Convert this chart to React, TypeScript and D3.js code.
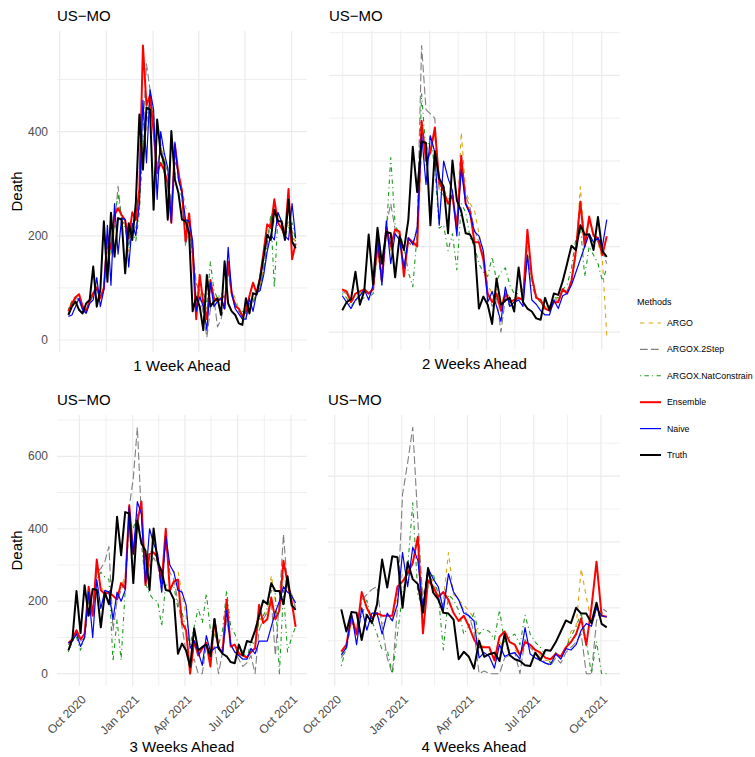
import React from "react";
import * as d3 from "d3";

// weekly reported deaths, week ending 2020-07-18 .. 2021-10-09
const weekStart = new Date(2020, 6, 18);
const weekDates = d3.range(65).map((i) => d3.timeDay.offset(weekStart, 7 * i));

const truthDeaths = [
  48, 64, 74, 58, 51, 70, 77, 141, 64, 96, 228, 112, 244, 160, 234, 231, 128, 224, 192, 263,
  433, 327, 446, 442, 250, 423, 359, 340, 231, 401, 308, 282, 231, 228, 205, 55, 83, 64, 19, 125,
  64, 74, 80, 48, 151, 70, 55, 48, 32, 29, 80, 51, 90, 87, 119, 160, 202, 192, 250, 228,
  228, 192, 269, 189, 176,
];

// 1 week ahead (65 weeks, from week 0)
const argoW1 = [55, 68, 80, 78, 60, 58, 72, 90, 110, 80, 95, 185, 160, 215, 225, 235, 220, 170, 215, 210, 260, 380, 400, 450, 420, 330, 380, 350, 325, 260, 340, 330, 290, 255, 240, 180, 110, 90, 80, 60, 100, 80, 80, 85, 80, 140, 95, 80, 60, 50, 45, 70, 75, 90, 105, 140, 175, 200, 230, 240, 230, 215, 220, 210, 185];
const stepW1 = [50, 65, 80, 75, 58, 55, 72, 85, 105, 80, 100, 190, 170, 220, 295, 230, 220, 180, 220, 215, 260, 400, 530, 480, 410, 330, 370, 345, 320, 250, 345, 320, 280, 180, 220, 165, 110, 90, 50, 5, 60, 80, 25, 40, 70, 130, 85, 70, 55, 45, 40, 70, 70, 90, 100, 140, 180, 235, 250, 230, 225, 210, 230, 200, 180];
const natW1 = [60, 75, 85, 75, 60, 60, 75, 90, 100, 85, 95, 180, 165, 230, 280, 230, 215, 175, 210, 190, 245, 380, 420, 460, 430, 320, 370, 320, 310, 250, 320, 310, 270, 190, 210, 160, 80, 100, 90, 70, 150, 95, 80, 90, 80, 140, 90, 70, 60, 55, 50, 75, 70, 95, 100, 130, 185, 240, 100, 235, 220, 200, 215, 225, 190];
const ensW1 = [55, 70, 82, 88, 65, 55, 75, 90, 100, 80, 100, 200, 175, 240, 253, 240, 230, 195, 245, 230, 290, 565, 450, 470, 400, 320, 340, 325, 300, 225, 375, 320, 285, 190, 243, 170, 40, 125, 70, 40, 115, 80, 75, 80, 60, 150, 90, 65, 60, 45, 55, 85, 110, 90, 120, 170, 222, 215, 270, 225, 215, 200, 290, 155, 185];
const naiveW1 = [45, 48, 64, 80, 58, 51, 70, 77, 120, 64, 96, 220, 105, 262, 165, 234, 231, 140, 224, 200, 263, 460, 340, 480, 442, 270, 400, 359, 330, 225, 380, 308, 282, 231, 228, 190, 55, 83, 64, 19, 110, 64, 74, 80, 60, 178, 90, 60, 50, 40, 40, 80, 55, 90, 95, 125, 170, 202, 192, 245, 228, 200, 192, 262, 195];

// 2 weeks ahead (61 weeks, from week 4)
const argoW2 = [100, 90, 70, 85, 90, 100, 90, 100, 200, 120, 230, 190, 235, 230, 140, 210, 205, 210, 420, 390, 430, 460, 330, 340, 310, 320, 250, 467, 330, 300, 285, 230, 190, 110, 90, 100, 60, 100, 80, 80, 85, 80, 200, 120, 85, 70, 60, 55, 75, 75, 100, 95, 120, 180, 340, 210, 260, 225, 210, 170, -8];
const stepW2 = [95, 90, 70, 80, 85, 95, 90, 100, 200, 120, 250, 300, 240, 225, 150, 210, 200, 250, 670, 520, 510, 500, 330, 320, 300, 310, 260, 380, 320, 290, 240, 210, 180, 90, 60, 80, 0, 80, 60, 70, 75, 80, 180, 130, 85, 70, 55, 50, 75, 75, 100, 95, 120, 180, 300, 220, 260, 230, 210, 190, 160];
const natW2 = [90, 80, 60, 75, 75, 80, 80, 90, 190, 110, 230, 408, 250, 230, 200, 140, 106, 230, 557, 420, 460, 380, 243, 250, 190, 230, 145, 300, 280, 220, 200, 160, 140, 130, 176, 120, 140, 150, 110, 90, 90, 100, 180, 110, 80, 70, 60, 60, 80, 80, 100, 110, 150, 220, 250, 130, 200, 180, 160, 120, 149];
const ensW2 = [100, 95, 70, 90, 95, 100, 90, 100, 210, 120, 245, 200, 240, 235, 130, 220, 210, 200, 494, 400, 420, 478, 350, 330, 300, 320, 240, 412, 300, 280, 210, 210, 170, 90, 70, 90, 50, 90, 70, 75, 80, 75, 239, 130, 80, 75, 55, 50, 70, 70, 100, 90, 120, 190, 305, 200, 270, 225, 220, 180, 224];
const naiveW2 = [85, 70, 55, 75, 85, 100, 75, 110, 225, 110, 260, 160, 230, 215, 150, 220, 205, 240, 463, 345, 459, 420, 250, 400, 360, 330, 225, 380, 300, 275, 235, 225, 190, 70, 95, 60, 25, 105, 60, 70, 75, 60, 180, 75, 65, 50, 40, 40, 75, 55, 85, 90, 110, 140, 170, 200, 230, 210, 220, 200, 263];

// 3 weeks ahead (57 weeks, from week 8)
const argoW3 = [80, 90, 110, 95, 105, 220, 170, 290, 240, 225, 220, 210, 210, 240, 270, 420, 340, 440, 450, 290, 340, 330, 310, 270, 360, 300, 280, 285, 220, 160, 80, 90, 70, 60, 90, 60, 110, 80, 70, 180, 90, 80, 60, 50, 45, 65, 70, 150, 150, 170, 271, 200, 190, 270, 240, 220, 180];
const stepW3 = [80, 90, 110, 90, 100, 220, 170, 280, 290, 310, 351, 120, 200, 230, 260, 460, 540, 680, 430, 250, 300, 320, 300, 230, 360, 280, 260, 200, 130, 60, 30, 40, 0, 0, 80, 50, 80, 0, 60, 150, 80, 60, 40, 20, 30, 50, 0, 120, 150, 170, 200, 50, 200, 385, 240, 220, 180];
const natW3 = [60, 90, 100, 65, 100, 200, 160, 260, 280, 267, 260, 34, 150, 37, 230, 420, 400, 440, 360, 250, 220, 204, 200, 131, 250, 230, 240, 180, 170, 120, 80, 130, 180, 140, 221, 120, 110, 80, 120, 230, 130, 110, 80, 60, 40, 90, 80, 150, 160, 180, 230, 220, 0, 230, 60, 100, 130];
const ensW3 = [85, 95, 120, 95, 110, 240, 160, 315, 230, 220, 225, 215, 205, 250, 235, 465, 331, 420, 475, 245, 330, 335, 320, 250, 400, 230, 255, 260, 140, 120, 0, 90, 50, 70, 85, 20, 150, 70, 60, 204, 75, 80, 55, 50, 45, 60, 70, 190, 140, 150, 210, 150, 175, 312, 250, 200, 129];
const naiveW3 = [85, 90, 110, 75, 100, 225, 100, 260, 180, 230, 225, 150, 225, 200, 230, 460, 330, 475, 440, 250, 400, 360, 330, 225, 380, 300, 280, 230, 225, 190, 70, 90, 60, 23, 105, 60, 70, 75, 55, 175, 80, 60, 50, 40, 40, 70, 55, 90, 90, 90, 130, 170, 200, 240, 225, 215, 195];

// 4 weeks ahead (53 weeks, from week 12)
const argoW4 = [75, 100, 200, 140, 250, 220, 200, 220, 190, 200, 210, 300, 380, 340, 420, 450, 300, 380, 350, 300, 280, 460, 300, 280, 260, 240, 210, 120, 100, 90, 60, 120, 100, 90, 90, 70, 130, 100, 90, 70, 50, 50, 70, 65, 90, 160, 180, 398, 290, 200, 230, 230, 230];
const stepW4 = [60, 90, 200, 150, 280, 300, 320, 330, 180, 60, 0, 250, 680, 800, 935, 580, 270, 380, 320, 290, 260, 380, 310, 280, 240, 220, 160, 0, 10, 0, 0, 0, 60, 70, 80, 0, 130, 100, 80, 60, 40, 30, 60, 40, 80, 100, 120, 150, 0, 0, 200, 250, 235];
const natW4 = [30, 100, 200, 160, 220, 279, 200, 150, 90, 90, 0, 150, 300, 400, 649, 300, 250, 330, 380, 300, 90, 300, 280, 240, 150, 180, 230, 150, 170, 160, 130, 241, 120, 140, 150, 110, 222, 150, 120, 100, 70, 40, 80, 60, 100, 140, 180, 230, 120, 0, 122, 0, 0];
const ensW4 = [84, 110, 220, 150, 310, 250, 210, 230, 220, 220, 220, 330, 350, 380, 420, 520, 153, 354, 330, 290, 310, 280, 230, 200, 220, 180, 130, 100, 100, 100, 50, 140, 160, 120, 110, 70, 120, 110, 90, 80, 60, 55, 75, 65, 100, 120, 150, 210, 109, 250, 425, 220, 216];
const naiveW4 = [70, 100, 230, 110, 250, 165, 230, 230, 150, 230, 200, 263, 460, 330, 480, 430, 250, 400, 360, 330, 240, 379, 310, 280, 230, 220, 200, 60, 80, 65, 21, 110, 65, 75, 80, 55, 175, 75, 60, 50, 40, 35, 75, 55, 95, 90, 110, 165, 190, 180, 250, 220, 215];

const methods = ["ARGO", "ARGOX.2Step", "ARGOX.NatConstrain", "Ensemble", "Naive", "Truth"];
const methodColor: Record<string, string> = {
  ARGO: "#D9A514",
  "ARGOX.2Step": "#7F7F7F",
  "ARGOX.NatConstrain": "#1E9A1E",
  Ensemble: "#FF0000",
  Naive: "#0000FF",
  Truth: "#000000",
};
const methodWidth: Record<string, number> = {
  ARGO: 1.1,
  "ARGOX.2Step": 1.1,
  "ARGOX.NatConstrain": 1.1,
  Ensemble: 2,
  Naive: 1.2,
  Truth: 2,
};
const methodDash: Record<string, string | undefined> = {
  ARGO: "4.4 4.4",
  "ARGOX.2Step": "7.7 3.3",
  "ARGOX.NatConstrain": "1.1 3.3 4.4 3.3",
};

const quarterStarts = ["2020-07-01", "2020-10-01", "2021-01-01", "2021-04-01", "2021-07-01", "2021-10-01"];
const quarterMids = ["2020-08-16", "2020-11-16", "2021-02-15", "2021-05-16", "2021-08-16"];
const labelQuarters = ["2020-10-01", "2021-01-01", "2021-04-01", "2021-07-01", "2021-10-01"];

const parse = (s: string) => {
  const [y, m, d] = s.split("-").map(Number);
  return new Date(y, m - 1, d);
};

const panels = [
  {
    title: "1 Week Ahead", start: 0, x0: 57, x1: 307, y0: 31, y1: 352,
    series: [argoW1, stepW1, natW1, ensW1, naiveW1, truthDeaths.slice(0)],
    yMajor: [0, 200, 400], yMinor: [100, 300, 500],
    xMajor: quarterStarts, xMinor: [] as string[], yLabels: true, xLabels: false,
  },
  {
    title: "2 Weeks Ahead", start: 4, x0: 329, x1: 620, y0: 31, y1: 350,
    series: [argoW2, stepW2, natW2, ensW2, naiveW2, truthDeaths.slice(4)],
    yMajor: [0, 200, 400, 600], yMinor: [100, 300, 500, 700],
    xMajor: labelQuarters, xMinor: quarterMids, yLabels: false, xLabels: false,
  },
  {
    title: "3 Weeks Ahead", start: 8, x0: 57, x1: 307, y0: 415, y1: 686,
    series: [argoW3, stepW3, natW3, ensW3, naiveW3, truthDeaths.slice(8)],
    yMajor: [0, 200, 400, 600], yMinor: [100, 300, 500, 700],
    xMajor: labelQuarters, xMinor: quarterMids.slice(1), yLabels: true, xLabels: true,
  },
  {
    title: "4 Weeks Ahead", start: 12, x0: 328, x1: 620, y0: 415, y1: 686,
    series: [argoW4, stepW4, natW4, ensW4, naiveW4, truthDeaths.slice(12)],
    yMajor: [0, 250, 500, 750], yMinor: [125, 375, 625, 875],
    xMajor: labelQuarters, xMinor: quarterMids.slice(1), yLabels: false, xLabels: true,
  },
];

const gridColor = "#EBEBEB";
const fmt = d3.timeFormat("%b %Y");

function Panel({ p }: { p: (typeof panels)[number] }) {
  const n = p.series[5].length;
  const dates = weekDates.slice(p.start, p.start + n);
  const all = p.series.flat();
  const lo = d3.min(all) as number;
  const hi = d3.max(all) as number;
  const pad = (hi - lo) * 0.05;
  const y = d3.scaleLinear().domain([lo - pad, hi + pad]).range([p.y1, p.y0]);
  const t0 = +dates[0];
  const t1 = +dates[n - 1];
  const tp = (t1 - t0) * 0.05;
  const x = d3.scaleTime().domain([new Date(t0 - tp), new Date(t1 + tp)]).range([p.x0, p.x1]);
  const line = d3
    .line<number>()
    .x((_, i) => x(dates[i]))
    .y((d) => y(d));

  const inX = (s: string) => {
    const v = x(parse(s));
    return v >= p.x0 && v <= p.x1;
  };
  const inY = (v: number) => y(v) >= p.y0 && y(v) <= p.y1;
  const midX = (p.x0 + p.x1) / 2;

  return (
    <g>
      {p.yMinor.filter(inY).map((v) => (
        <line key={"ym" + v} x1={p.x0} x2={p.x1} y1={y(v)} y2={y(v)} stroke={gridColor} strokeWidth={0.8} />
      ))}
      {p.xMinor.filter(inX).map((s) => (
        <line key={"xm" + s} x1={x(parse(s))} x2={x(parse(s))} y1={p.y0} y2={p.y1} stroke={gridColor} strokeWidth={0.8} />
      ))}
      {p.yMajor.filter(inY).map((v) => (
        <line key={"yM" + v} x1={p.x0} x2={p.x1} y1={y(v)} y2={y(v)} stroke={gridColor} strokeWidth={1.2} />
      ))}
      {p.xMajor.filter(inX).map((s) => (
        <line key={"xM" + s} x1={x(parse(s))} x2={x(parse(s))} y1={p.y0} y2={p.y1} stroke={gridColor} strokeWidth={1.2} />
      ))}

      {methods.map((m, k) => (
        <path
          key={m}
          d={line(p.series[k]) || ""}
          fill="none"
          stroke={methodColor[m]}
          strokeWidth={methodWidth[m]}
          strokeDasharray={methodDash[m]}
          strokeLinejoin="round"
        />
      ))}

      {p.yLabels &&
        p.yMajor.filter(inY).map((v) => (
          <text key={"yl" + v} x={p.x0 - 9} y={y(v)} textAnchor="end" dominantBaseline="central" fontSize={12} fill="#4D4D4D">
            {v}
          </text>
        ))}
      {p.xLabels &&
        p.xMajor.filter(inX).map((s) => (
          <text
            key={"xl" + s}
            transform={`translate(${x(parse(s)) + 1},${p.y1 + 8}) rotate(-45)`}
            textAnchor="end"
            dominantBaseline="hanging"
            fontSize={12}
            fill="#4D4D4D"
          >
            {fmt(parse(s))}
          </text>
        ))}

      <text x={p.x0} y={p.y0 - 10} fontSize={15} fill="#000">
        US−MO
      </text>
      <text x={midX} y={p.y1 + (p.xLabels ? 66 : 19)} textAnchor="middle" fontSize={15} fill="#000">
        {p.title}
      </text>
      {p.yLabels && (
        <text
          transform={`translate(16,${(p.y0 + p.y1) / 2}) rotate(-90)`}
          textAnchor="middle"
          dominantBaseline="central"
          fontSize={15}
          fill="#000"
        >
          Death
        </text>
      )}
    </g>
  );
}

function Legend() {
  const top = 323;
  const step = 26.4;
  return (
    <g>
      <text x={637} y={305} fontSize={9} fill="#000">
        Methods
      </text>
      {methods.map((m, i) => (
        <g key={m}>
          <line
            x1={640}
            x2={661}
            y1={top + i * step}
            y2={top + i * step}
            stroke={methodColor[m]}
            strokeWidth={methodWidth[m]}
            strokeDasharray={methodDash[m]}
          />
          <text x={667} y={top + i * step} dominantBaseline="central" fontSize={8.8} fill="#000">
            {m}
          </text>
        </g>
      ))}
    </g>
  );
}

export default function App() {
  return (
    <svg
      width={755}
      height={757}
      style={{ position: "absolute", left: 0, top: 0, background: "#fff" }}
      fontFamily="'Liberation Sans', Arial, Helvetica, sans-serif"
    >
      {panels.map((p) => (
        <Panel key={p.title} p={p} />
      ))}
      <Legend />
    </svg>
  );
}
